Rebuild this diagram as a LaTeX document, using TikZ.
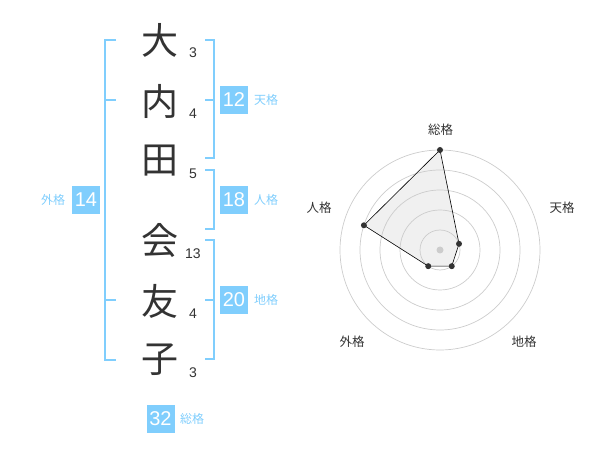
\documentclass[tikz,border=0pt]{standalone}
\usepackage{fontspec}
\setmainfont{Liberation Sans}
\newfontfamily\cjk{Noto Sans CJK JP}
\definecolor{kakublue}{RGB}{128,206,253}
\definecolor{ink}{RGB}{51,51,51}
\tikzset{
  kanji/.style = {font=\cjk\fontsize{37}{37}\selectfont, text=ink, inner sep=0pt},
  strokes/.style = {font=\fontsize{14}{14}\selectfont, text=ink, inner sep=0pt},
  kakubox/.style = {fill=kakublue, text=white, minimum size=28pt, inner sep=0pt,
    font=\fontsize{20}{20}\selectfont},
  kakulabel/.style = {text=kakublue, font=\cjk\fontsize{12}{12}\selectfont, inner sep=0pt},
  bracket/.style = {draw=kakublue, line width=1.5pt},
  ring/.style = {draw=gray!40, line width=0.7pt},
  axislabel/.style = {text=ink, font=\cjk\fontsize{12.5}{12.5}\selectfont, inner sep=0pt}
}

\begin{document}
\begin{tikzpicture}[x=1pt,y=-1pt]
  \useasboundingbox (0,0) rectangle (600,470);
  % name and stroke counts
  \foreach \ch/\y/\n [count=\i] in {大/40/3,内/101/4,田/161/5,会/241/13,友/301/4,子/360/3} {
    \node[kanji] (c\i) at (160,\y) {\ch};
    \node[strokes] (s\i) at (193,\y+12.5) {\n};
  }
  % brackets
  \draw[bracket] (116,40) -- (105,40) -- (105,360) -- (116,360);
  \draw[bracket] (105,100) -- (116,100);
  \draw[bracket] (105,300) -- (116,300);
  \draw[bracket] (205,40) -- (214,40) -- (214,158) -- (205,158);
  \draw[bracket] (205,100) -- (214,100);
  \draw[bracket] (205,170) -- (214,170) -- (214,229) -- (205,229);
  \draw[bracket] (205,240) -- (214,240) -- (214,359) -- (205,359);
  \draw[bracket] (205,300) -- (214,300);
  % values
  \node[kakubox] (ten) at (234,100) {12};
  \node[kakulabel] (tenl) at (266,100) {天格};
  \node[kakubox] (jin) at (234,200) {18};
  \node[kakulabel] (jinl) at (266,200) {人格};
  \node[kakubox] (chi) at (234,300) {20};
  \node[kakulabel] (chil) at (266,300) {地格};
  \node[kakubox] (gai) at (86,200) {14};
  \node[kakulabel] (gail) at (53,200) {外格};
  \node[kakubox] (sou) at (160.5,419) {32};
  \node[kakulabel] (soul) at (192,419) {総格};
  % radar chart
  \begin{scope}[shift={(440,250)},y=1pt]
    \coordinate (p1) at (90:100);
    \coordinate (p2) at (18:20);
    \coordinate (p3) at (-54:20);
    \coordinate (p4) at (-126:20);
    \coordinate (p5) at (162:80);
    \fill[gray!12] (p1) -- (p2) -- (p3) -- (p4) -- (p5) -- cycle;
    \foreach \r in {20,40,...,100}
      \draw[ring] (0,0) circle (\r);
    \fill[gray!40] (0,0) circle (3.5);
    \draw[line width=0.6pt] (p1) -- (p2) -- (p3) -- (p4) -- (p5) -- cycle;
    \foreach \i in {1,...,5}
      \fill[ink] (p\i) circle (3);
    \node[axislabel] (a1) at (0.7,120) {総格};
    \node[axislabel] (a2) at (122,42) {天格};
    \node[axislabel] (a3) at (84,-92) {地格};
    \node[axislabel] (a4) at (-88,-92) {外格};
    \node[axislabel] (a5) at (-121,42) {人格};
  \end{scope}
\end{tikzpicture}
\end{document}
